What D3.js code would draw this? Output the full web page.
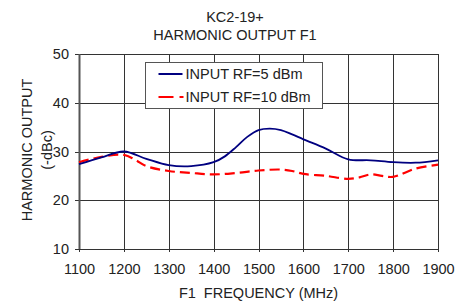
<!DOCTYPE html>
<html>
<head>
<meta charset="utf-8">
<script src="https://cdn.jsdelivr.net/npm/d3@7"></script>
<style>
  body { margin: 0; background: #fff; }
  text { font-family: "Liberation Sans", Arial, sans-serif; fill: #222; }
</style>
</head>
<body>
<div id="chart"></div>
<script>
// data
var freq5 = [1100, 1150, 1200, 1250, 1300, 1350, 1400, 1425, 1450, 1475, 1500, 1525, 1550, 1575, 1600, 1650, 1700, 1750, 1800, 1850, 1900];
var rf5 = [27.4, 28.8, 30.0, 28.5, 27.2, 27.0, 27.8, 29.0, 30.9, 33.0, 34.4, 34.7, 34.4, 33.5, 32.5, 30.6, 28.4, 28.2, 27.8, 27.7, 28.2];

var freq10 = [1100, 1150, 1200, 1225, 1250, 1300, 1350, 1400, 1450, 1500, 1550, 1575, 1600, 1650, 1700, 1725, 1750, 1775, 1800, 1850, 1900];
var rf10 = [27.8, 28.9, 29.3, 28.3, 27.0, 26.0, 25.6, 25.3, 25.6, 26.1, 26.3, 26.0, 25.4, 25.0, 24.4, 24.7, 25.3, 25.0, 24.8, 26.5, 27.3];

var xTicks = [1100, 1200, 1300, 1400, 1500, 1600, 1700, 1800, 1900];
var yTicks = [10, 20, 30, 40, 50];
var seriesNames = ["INPUT RF=5 dBm", "INPUT RF=10 dBm"];

var W = 465, H = 303;
var margin = {top: 54, right: 27, bottom: 54, left: 79},
    width = W - margin.left - margin.right,
    height = H - margin.top - margin.bottom;
var fs = "14.5px";

var svg = d3.select("#chart").append("svg")
    .attr("width", W)
    .attr("height", H);

// titles
svg.append("text").attr("x", 235).attr("y", 22).attr("text-anchor", "middle")
    .style("font-size", fs).text("KC2-19+");
svg.append("text").attr("x", 235).attr("y", 40).attr("text-anchor", "middle")
    .style("font-size", fs).text("HARMONIC OUTPUT F1");

var g = svg.append("g")
    .attr("transform", "translate(" + margin.left + "," + margin.top + ")");

var x = d3.scaleLinear().domain([1100, 1900]).range([0, width]);
var y = d3.scaleLinear().domain([10, 50]).range([height, 0]);

// grid
g.selectAll(".vgrid").data(xTicks).enter().append("line")
    .attr("x1", function(d) { return Math.round(x(d)) + 0.5; })
    .attr("x2", function(d) { return Math.round(x(d)) + 0.5; })
    .attr("y1", 0).attr("y2", height + 3)
    .attr("stroke", "#333").attr("stroke-width", 1);
g.selectAll(".hgrid").data(yTicks).enter().append("line")
    .attr("y1", function(d) { return Math.round(y(d)) + 0.5; })
    .attr("y2", function(d) { return Math.round(y(d)) + 0.5; })
    .attr("x1", -4).attr("x2", width)
    .attr("stroke", "#333").attr("stroke-width", 1);
g.append("line").attr("x1", 0.5).attr("x2", 0.5).attr("y1", 0).attr("y2", height)
    .attr("stroke", "#555").attr("stroke-width", 2);

// axes labels
var xAxis = g.append("g").attr("transform", "translate(0," + height + ")")
    .call(d3.axisBottom(x).tickValues(xTicks).tickSize(0).tickPadding(15).tickFormat(d3.format("d")));
xAxis.select(".domain").remove();
xAxis.selectAll("text").style("font-size", fs).attr("fill", "#222");

var yAxis = g.append("g")
    .call(d3.axisLeft(y).tickValues(yTicks).tickSize(0).tickPadding(10));
yAxis.select(".domain").remove();
yAxis.selectAll("text").style("font-size", fs).attr("fill", "#222");

svg.append("text").attr("x", margin.left + width / 2).attr("y", 298)
    .attr("text-anchor", "middle").style("font-size", fs)
    .attr("xml:space", "preserve").text("F1  FREQUENCY (MHz)");
svg.append("text").attr("transform", "translate(32,150) rotate(-90)")
    .attr("text-anchor", "middle").style("font-size", fs).text("HARMONIC OUTPUT");
svg.append("text").attr("transform", "translate(52,150) rotate(-90)")
    .attr("text-anchor", "middle").style("font-size", fs).text("(-dBc)");

// lines
var line = d3.line()
    .x(function(d) { return x(d[0]); })
    .y(function(d) { return y(d[1]); })
    .curve(d3.curveCatmullRom.alpha(0.5));

g.append("path").datum(d3.zip(freq10, rf10))
    .attr("d", line).attr("fill", "none")
    .attr("stroke", "#ff0000").attr("stroke-width", 2.2)
    .attr("stroke-dasharray", "10,5");
g.append("path").datum(d3.zip(freq5, rf5))
    .attr("d", line).attr("fill", "none")
    .attr("stroke", "#000080").attr("stroke-width", 1.8);

// legend
var lg = svg.append("g").attr("transform", "translate(145.5,62.5)");
lg.append("rect").attr("width", 177).attr("height", 46)
    .attr("fill", "#fff").attr("stroke", "#555").attr("stroke-width", 1);
lg.append("line").attr("x1", 13).attr("x2", 37).attr("y1", 11.5).attr("y2", 11.5)
    .attr("stroke", "#000080").attr("stroke-width", 2);
lg.append("line").attr("x1", 13).attr("x2", 38).attr("y1", 34.5).attr("y2", 34.5)
    .attr("stroke", "#ff0000").attr("stroke-width", 2.2).attr("stroke-dasharray", "15,6");
lg.selectAll(".lt").data(seriesNames).enter().append("text")
    .attr("x", 40).attr("y", function(d, i) { return 16.5 + i * 23; })
    .style("font-size", fs).text(function(d) { return d; });
</script>
</body>
</html>
